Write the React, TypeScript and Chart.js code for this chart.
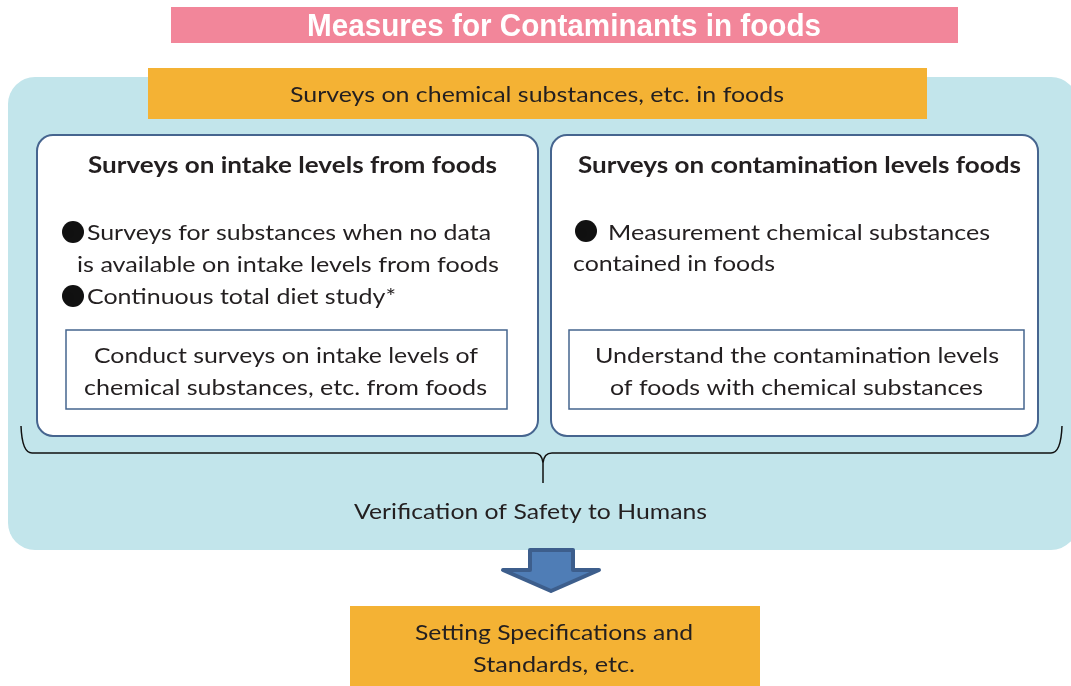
import React, { useEffect, useRef } from "react";
import { Chart, registerables } from "chart.js";

Chart.register(...registerables);

// ---- content (text) ----
const TITLE = "Measures for Contaminants in foods";
const SURVEY_HEADER = "Surveys on chemical substances, etc. in foods";
const INTAKE_HEADING = "Surveys on intake levels from foods";
const INTAKE_LINES = [
  "Surveys for substances when no data",
  "is available on intake levels from foods",
  "Continuous total diet study*",
];
const INTAKE_BULLETED = [true, false, true];
const INTAKE_RESULT = [
  "Conduct surveys on intake levels of",
  "chemical substances, etc. from foods",
];
const CONTAM_HEADING = "Surveys on contamination levels foods";
const CONTAM_LINES = ["Measurement chemical substances", "contained in foods"];
const CONTAM_BULLETED = [true, false];
const CONTAM_RESULT = [
  "Understand the contamination levels",
  "of foods with chemical substances",
];
const VERIFICATION = "Verification of Safety to Humans";
const OUTCOME = ["Setting Specifications and", "Standards, etc."];
const BULLET = "●";

// ---- layout (canvas units) ----
const W = 1071;
const H = 686;
const COLORS = {
  pink: "#F2869A",
  panel: "#C2E5EB",
  orange: "#F4B234",
  stroke: "#46658F",
  text: "#231F20",
  arrowFill: "#4F7DB6",
  arrowStroke: "#3D5E8C",
};
const BODY = "Lato, 'Noto Sans', sans-serif";

// the bullet glyph is kept as real text (drawn faintly over the dot)
function drawBulletText(ctx: CanvasRenderingContext2D, x: number, y: number) {
  ctx.save();
  ctx.font = `22px ${BODY}`;
  ctx.fillStyle = "rgba(17,17,17,0.01)";
  ctx.textBaseline = "alphabetic";
  ctx.fillText(BULLET, x, y);
  ctx.restore();
}

const diagramPlugin = {
  id: "diagram",
  afterDraw(chart: any) {
    const ctx: CanvasRenderingContext2D = chart.ctx;
    const sx = chart.scales.x;
    const sy = chart.scales.y;
    const X = (v: number) => sx.getPixelForValue(v);
    const Y = (v: number) => sy.getPixelForValue(v);

    const rect = (x0: number, y0: number, x1: number, y1: number, fill?: string, stroke?: string, lw = 1, r = 0) => {
      ctx.save();
      ctx.beginPath();
      if (r > 0) ctx.roundRect(X(x0), Y(y0), X(x1) - X(x0), Y(y1) - Y(y0), r);
      else ctx.rect(X(x0), Y(y0), X(x1) - X(x0), Y(y1) - Y(y0));
      if (fill) {
        ctx.fillStyle = fill;
        ctx.fill();
      }
      if (stroke) {
        ctx.strokeStyle = stroke;
        ctx.lineWidth = lw;
        ctx.stroke();
      }
      ctx.restore();
    };

    const fit = (text: string, x0: number, x1: number, base: number, font: string, color: string) => {
      ctx.save();
      ctx.font = font;
      ctx.fillStyle = color;
      ctx.textBaseline = "alphabetic";
      ctx.textAlign = "left";
      const w = ctx.measureText(text).width;
      const k = (X(x1) - X(x0)) / w;
      ctx.translate(X(x0), Y(base));
      ctx.scale(k, 1);
      ctx.fillText(text, 0, 0);
      ctx.restore();
    };

    const dot = (cx: number, cy: number, r: number) => {
      ctx.save();
      ctx.beginPath();
      ctx.arc(X(cx), Y(cy), r, 0, Math.PI * 2);
      ctx.fillStyle = "#111";
      ctx.fill();
      ctx.restore();
    };

    // title
    rect(171, 7, 958, 43, COLORS.pink);
    fit(TITLE, 307, 821, 36, `bold 31px 'Liberation Sans', Arial, sans-serif`, "#FFFFFF");

    // light-blue panel
    rect(8, 77, 1078, 550, COLORS.panel, undefined, 1, 27);

    // orange header
    rect(148, 68, 927, 119, COLORS.orange);
    fit(SURVEY_HEADER, 290, 784, 102, `21px ${BODY}`, COLORS.text);

    // left box
    rect(37, 135, 538, 436, "#FFFFFF", COLORS.stroke, 2, 16);
    fit(INTAKE_HEADING, 88, 497, 173, `bold 22px ${BODY}`, COLORS.text);
    const lx = [
      [87, 491],
      [77, 499],
      [87, 396],
    ];
    const lb = [240, 272, 304];
    INTAKE_LINES.forEach((t, i) => {
      if (INTAKE_BULLETED[i]) {
        dot(73, lb[i] - 8, 11);
        drawBulletText(ctx, X(62), Y(lb[i]));
      }
      fit(t, lx[i][0], lx[i][1], lb[i], `21px ${BODY}`, COLORS.text);
    });
    rect(66, 330, 507, 409, "#FFFFFF", COLORS.stroke, 1.5);
    fit(INTAKE_RESULT[0], 94, 478, 363, `21px ${BODY}`, COLORS.text);
    fit(INTAKE_RESULT[1], 84, 487, 395, `21px ${BODY}`, COLORS.text);

    // right box
    rect(551, 135, 1038, 436, "#FFFFFF", COLORS.stroke, 2, 16);
    fit(CONTAM_HEADING, 578, 1021, 173, `bold 22px ${BODY}`, COLORS.text);
    const rx = [
      [608, 990],
      [573, 775],
    ];
    const rb = [240, 271];
    CONTAM_LINES.forEach((t, i) => {
      if (CONTAM_BULLETED[i]) {
        dot(586, rb[i] - 9, 11);
        drawBulletText(ctx, X(575), Y(rb[i]));
      }
      fit(t, rx[i][0], rx[i][1], rb[i], `21px ${BODY}`, COLORS.text);
    });
    rect(569, 330, 1024, 409, "#FFFFFF", COLORS.stroke, 1.5);
    fit(CONTAM_RESULT[0], 595, 999, 363, `21px ${BODY}`, COLORS.text);
    fit(CONTAM_RESULT[1], 610, 983, 395, `21px ${BODY}`, COLORS.text);

    // brace
    ctx.save();
    ctx.strokeStyle = "#111";
    ctx.lineWidth = 1.5;
    ctx.beginPath();
    ctx.moveTo(X(21), Y(426));
    ctx.quadraticCurveTo(X(22), Y(453), X(32), Y(453));
    ctx.lineTo(X(534), Y(453));
    ctx.quadraticCurveTo(X(542), Y(453), X(543), Y(463));
    ctx.lineTo(X(543), Y(483));
    ctx.moveTo(X(543), Y(463));
    ctx.quadraticCurveTo(X(544), Y(453), X(552), Y(453));
    ctx.lineTo(X(1051), Y(453));
    ctx.quadraticCurveTo(X(1061), Y(453), X(1062), Y(426));
    ctx.stroke();
    ctx.restore();

    fit(VERIFICATION, 354, 707, 519, `22px ${BODY}`, COLORS.text);

    // arrow
    ctx.save();
    ctx.beginPath();
    ctx.moveTo(X(530), Y(550));
    ctx.lineTo(X(573), Y(550));
    ctx.lineTo(X(573), Y(570));
    ctx.lineTo(X(599), Y(570));
    ctx.lineTo(X(551), Y(591));
    ctx.lineTo(X(503), Y(570));
    ctx.lineTo(X(530), Y(570));
    ctx.closePath();
    ctx.fillStyle = COLORS.arrowFill;
    ctx.fill();
    ctx.strokeStyle = COLORS.arrowStroke;
    ctx.lineWidth = 4;
    ctx.lineJoin = "round";
    ctx.stroke();
    ctx.restore();

    // outcome box
    rect(350, 606, 760, 700, COLORS.orange);
    fit(OUTCOME[0], 415, 693, 640, `22px ${BODY}`, COLORS.text);
    fit(OUTCOME[1], 473, 635, 672, `22px ${BODY}`, COLORS.text);
  },
};

export default function App() {
  const ref = useRef<HTMLCanvasElement | null>(null);
  useEffect(() => {
    if (!ref.current) return;
    const chart = new Chart(ref.current, {
      type: "scatter",
      data: { datasets: [{ data: [], pointRadius: 0 }] },
      options: {
        animation: false,
        responsive: false,
        maintainAspectRatio: false,
        devicePixelRatio: 1,
        layout: { padding: 0 },
        events: [],
        plugins: { legend: { display: false }, tooltip: { enabled: false }, title: { display: false } },
        scales: {
          x: { type: "linear", min: 0, max: W, display: false },
          y: { type: "linear", min: 0, max: H, reverse: true, display: false },
        },
      },
      plugins: [diagramPlugin],
    } as any);
    return () => chart.destroy();
  }, []);
  return (
    <div style={{ position: "absolute", left: 0, top: 0, width: W, height: H, background: "#fff" }}>
      <canvas ref={ref} width={W} height={H} style={{ display: "block", width: W, height: H }} />
    </div>
  );
}
